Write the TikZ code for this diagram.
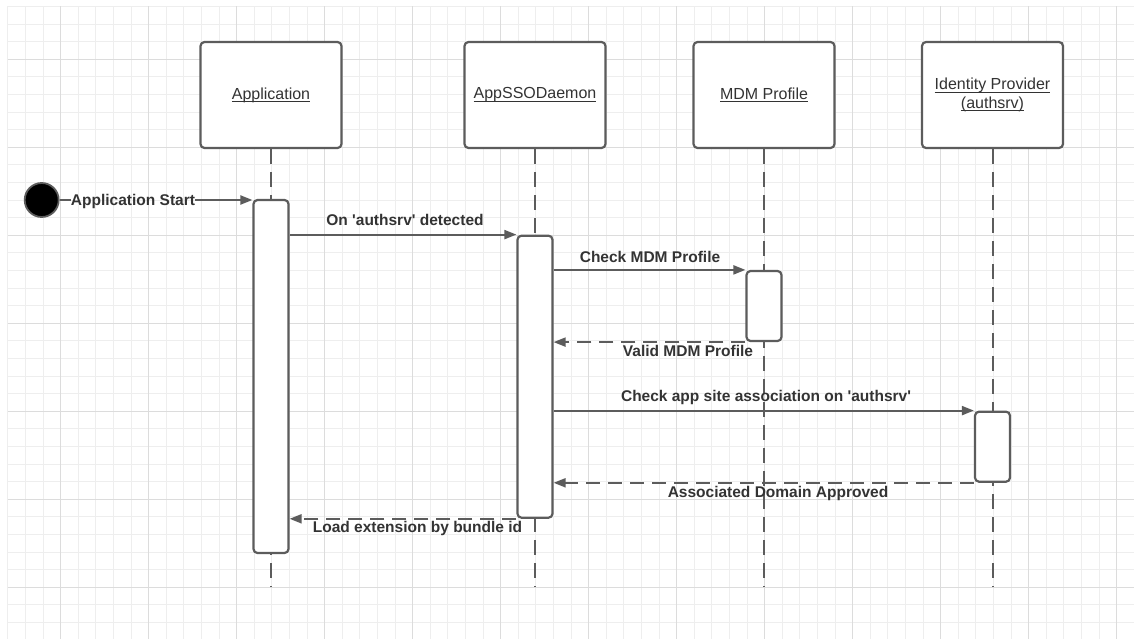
\documentclass[tikz,border=0pt]{standalone}
\usepackage{fontspec}
\setmainfont{Liberation Sans}[Ligatures=TeXOff]
\usetikzlibrary{arrows.meta}

\definecolor{gridminor}{HTML}{EEEEEE}
\definecolor{gridmajor}{HTML}{DCDCDC}
\definecolor{edge}{HTML}{5C5C5C}
\definecolor{ink}{HTML}{333333}

% underlined header text
\newcommand\hul[1]{\setbox0\hbox{#1}\rlap{\rule[-3pt]{\wd0}{1pt}}\box0}

\tikzset{
  minorline/.style={draw=gridminor, line width=1.1pt},
  majorline/.style={draw=gridmajor, line width=1.3pt},
  header/.style={draw=edge, fill=white, line width=2.2pt, rounded corners=4pt,
    minimum width=141pt, minimum height=106pt, text=ink, align=center,
    font=\fontsize{16}{18.5}\selectfont},
  actbar/.style={draw=edge, fill=white, line width=2.2pt, rounded corners=4pt,
    minimum width=35pt, inner sep=0pt},
  lifeline/.style={draw=edge, line width=2pt, dash pattern=on 15pt off 8pt},
  callmsg/.style={draw=edge, line width=2pt, -{Triangle[length=12pt,width=9pt]}},
  replymsg/.style={callmsg, dash pattern=on 14pt off 8pt},
  msglabel/.style={anchor=base, inner sep=0pt, text=ink,
    font=\fontsize{15.5}{18}\selectfont\bfseries},
  startdot/.style={circle, fill=black, draw=edge, line width=1.8pt,
    minimum size=34pt, inner sep=0pt}
}

\begin{document}
\begin{tikzpicture}[x=1pt, y=-1pt]
\useasboundingbox (0,0) rectangle (1134,639);
\fill[white] (0,0) rectangle (1134,639);

% background grid
\foreach \i in {0,...,64} \draw[minorline] ({7.9+17.6*\i},6.5) -- ({7.9+17.6*\i},639);
\foreach \j in {0,...,35} \draw[minorline] (7.9,{6.5+17.6*\j}) -- (1134,{6.5+17.6*\j});
\foreach \i in {0,...,12} \draw[majorline] ({60.7+88*\i},6.5) -- ({60.7+88*\i},639);
\foreach \j in {0,...,6} \draw[majorline] (7.9,{59.3+88*\j}) -- (1134,{59.3+88*\j});

% participants
\node[header] (app) at (271,95) {\hul{Application}};
\node[header] (dmn) at (535,95) {\hul{AppSSODaemon}};
\node[header] (mdm) at (764,95) {\hul{MDM Profile}};
\node[header] (idp) at (992.5,95) {\hul{Identity Provider}\\\hul{(authsrv)}};

% lifeline ends
\coordinate (append) at (271,587);
\coordinate (dmnend) at (535,587);
\coordinate (mdmend) at (764,587);
\coordinate (idpend) at (992.5,587);

\draw[lifeline] (app.south) -- (append);
\draw[lifeline] (dmn.south) -- (dmnend);
\draw[lifeline] (mdm.south) -- (mdmend);
\draw[lifeline] (idp.south) -- (idpend);

% activation bars
\node[actbar, minimum height=353pt] (appbar) at (271,376.5) {};
\node[actbar, minimum height=282pt] (dmnbar) at (535,376.7) {};
\node[actbar, minimum height=70pt]  (mdmbar) at (764,306) {};
\node[actbar, minimum height=70pt]  (idpbar) at (992.5,446.7) {};

% initial state
\node[startdot] (start) at (41.7,200) {};
\node[msglabel] (lstart) at (133,205.8) {Application Start};
\draw[draw=edge, line width=2pt] (start.east) -- (lstart.west |- start.east);
\draw[callmsg] (lstart.east |- start.east) -- (appbar.west |- start.east);

% messages
\draw[callmsg] (appbar.east |- dmnbar.north) -- (dmnbar.north west);
\node[msglabel] (lon) at (405,225) {On 'authsrv' detected};

\draw[callmsg] (dmnbar.east |- mdmbar.north) -- (mdmbar.north west);
\node[msglabel] (lcheck) at (650,262.7) {Check MDM Profile};

\draw[replymsg] (mdmbar.south west) -- (dmnbar.east |- mdmbar.south);
\node[msglabel] (lvalid) at (688,356.7) {Valid MDM Profile};

\draw[callmsg] (dmnbar.east |- idpbar.north) -- (idpbar.north west);
\node[msglabel] (lsite) at (766,401.7) {Check app site association on 'authsrv'};

\draw[replymsg] (idpbar.south west) -- (dmnbar.east |- idpbar.south);
\node[msglabel] (lassoc) at (778,497.7) {Associated Domain Approved};

\draw[replymsg] (dmnbar.south west) -- (appbar.east |- dmnbar.south);
\node[msglabel] (lload) at (417.5,532.7) {Load extension by bundle id};
\end{tikzpicture}
\end{document}
